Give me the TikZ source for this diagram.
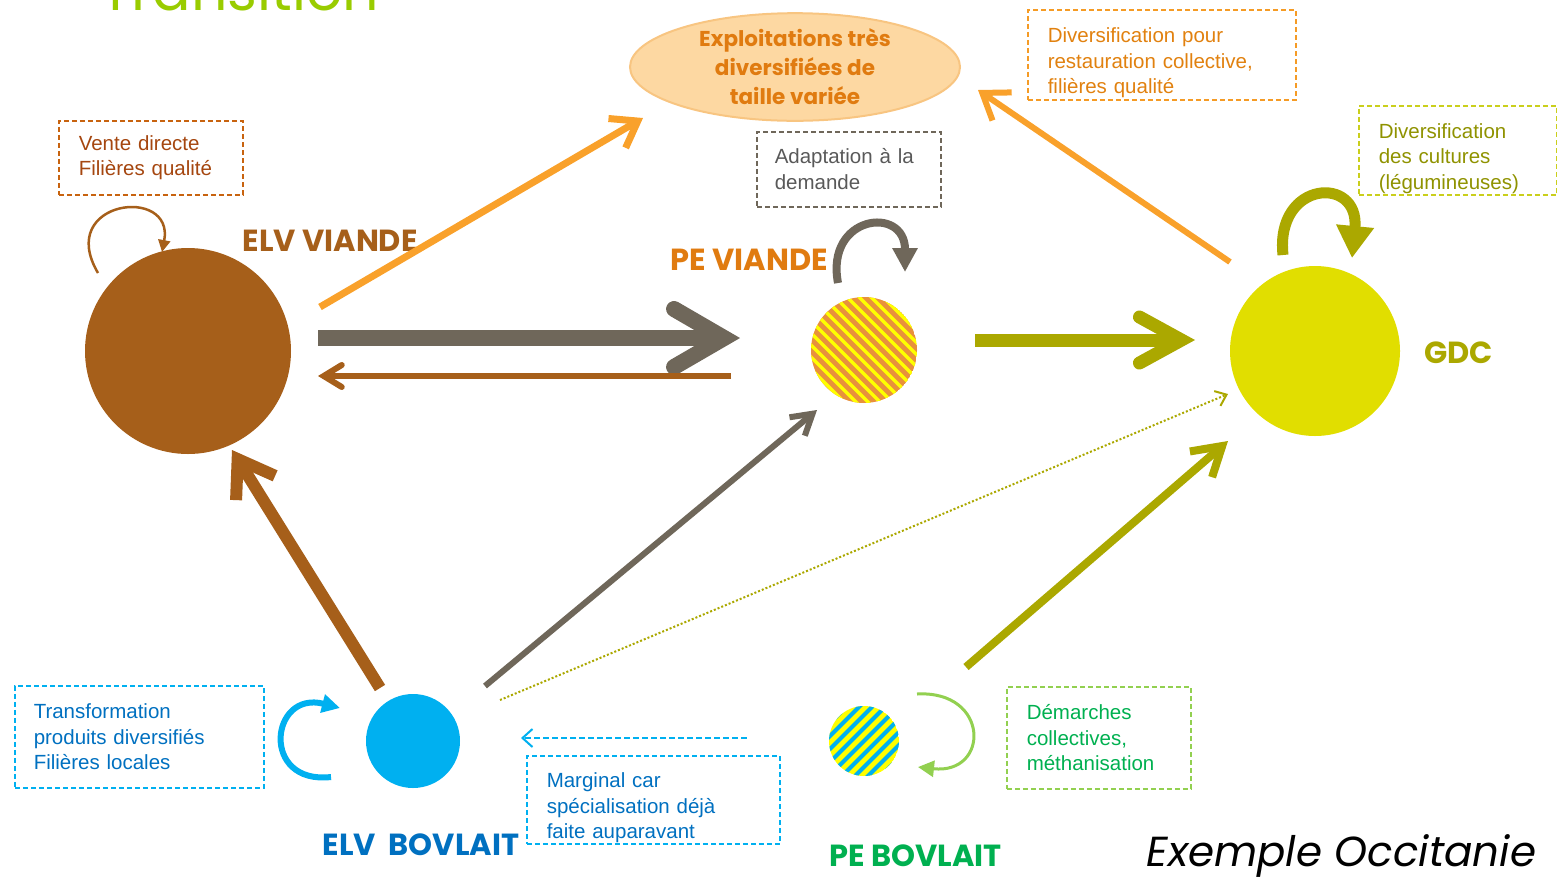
\documentclass[tikz,border=0pt]{standalone}
\usepackage{fontspec}
\setmainfont{Liberation Sans}
\newfontfamily\headfont{Poppins}
\usepackage{xcolor}
\usepackage{tikz}
\usetikzlibrary{positioning, arrows.meta, shapes, calc}

\definecolor{elvbrown}{HTML}{A65F1A}
\definecolor{flowgray}{HTML}{6F675A}
\definecolor{floworange}{HTML}{F9A12B}
\definecolor{flowolive}{HTML}{ABA800}
\definecolor{gdcyellow}{HTML}{E1DE00}
\definecolor{lcyan}{HTML}{00B0F0}
\definecolor{lblue}{HTML}{0070C0}
\definecolor{lgreen}{HTML}{00B050}
\definecolor{lightgreen}{HTML}{92D050}
\definecolor{peorange}{HTML}{E8913C}
\definecolor{stripeyellow}{HTML}{FFFF00}
\definecolor{ellfill}{HTML}{FDD8A2}
\definecolor{ellborder}{HTML}{F8C581}
\definecolor{elltext}{HTML}{E07B10}
\definecolor{vtext}{HTML}{A5460F}
\definecolor{vborder}{HTML}{C8630F}
\definecolor{otext}{HTML}{E1810F}
\definecolor{oborder}{HTML}{F59B25}
\definecolor{gtext}{HTML}{595959}
\definecolor{ctext}{HTML}{8F9200}
\definecolor{cborder}{HTML}{CACF1C}
\definecolor{titlegreen}{HTML}{99CC00}

\newcommand{\lowline}{\rule{0pt}{31pt}}

\tikzset{
    notebox/.style={rectangle, anchor=north west, align=left, dash pattern=on 5pt off 3pt,
        line width=1.5pt, inner xsep=20pt, inner ysep=0pt,
        font=\fontsize{20.5}{25.5}\selectfont},
    farm/.style={circle, inner sep=0pt, minimum size=#1},
    farmlabel/.style={anchor=base west, font=\headfont\bfseries\fontsize{30.5}{36}\selectfont},
    loop/.style={line width=#1, line cap=butt},
}

\begin{document}
\begin{tikzpicture}[x=1pt, y=-1pt]
    \useasboundingbox (0,0) rectangle (1557,879);

    % Title (cut off)
    \node[anchor=base west, text=titlegreen, font=\headfont\fontsize{57}{64}\selectfont] (title) at (97,10) {Transition};

    % Farms
    \node[farm=206pt, fill=elvbrown] (elvv) at (188,351) {};
    \node[farm=106pt] (pev) at (864,350) {};
    \node[farm=170pt, fill=gdcyellow] (gdc) at (1315,351) {};
    \node[farm=94pt, fill=lcyan] (elvb) at (413,741) {};
    \node[farm=70pt] (peb) at (864,741) {};

    % Striped farms
    \begin{scope}
        \clip (pev.center) circle (53);
        \fill[peorange] (pev.center) circle (53);
        \foreach \s in {-96,-84,...,96}
            \draw[stripeyellow, line width=3.5pt] ([xshift=\s]pev.center) ++(-70,-70) -- ++(140,140);
    \end{scope}
    \begin{scope}
        \clip (peb.center) circle (35);
        \fill[stripeyellow] (peb.center) circle (35);
        \foreach \s in {-65,-52,...,65}
            \draw[lcyan, line width=4pt] ([xshift=\s]peb.center) ++(-50,50) -- ++(100,-100);
    \end{scope}

    % Labels
    \node[farmlabel, text=elvbrown] (elvvlab) at (239,251) {ELV VIANDE};
    \node[farmlabel, text=elltext] (pevlab) at (667,270) {PE VIANDE};
    \node[farmlabel, text=flowolive] (gdclab) at (1421,363) {GDC};
    \node[farmlabel, text=lblue] (elvblab) at (319,855) {ELV\ \ BOVLAIT};
    \node[farmlabel, text=lgreen] (peblab) at (826,866) {PE BOVLAIT};
    \node[anchor=base west, font=\headfont\itshape\fontsize{42}{46}\selectfont] (occ) at (1143,866) {Exemple Occitanie};

    % Target
    \node[ellipse, draw=ellborder, fill=ellfill, line width=2pt, minimum width=330pt, minimum height=104pt,
          inner sep=0pt, align=center, text=elltext, font=\headfont\bfseries\fontsize{21.5}{29}\selectfont]
          (expl) at (795,67) {Exploitations très\\diversifiées de\\taille variée};

    % Notes
    \node[notebox, draw=vborder, text=vtext, text width=144pt, minimum height=74pt] (vente) at (58,120)
        {Vente directe\\Filières qualité};
    \node[notebox, draw=oborder, text=otext, text width=228pt, minimum height=90pt] (resto) at (1027,9)
        {\lowline Diversification pour\\restauration collective,\\filières qualité};
    \node[notebox, draw=flowgray, text=gtext, text width=148pt, inner xsep=18pt, minimum height=75pt] (adapt) at (756,131)
        {Adaptation à la\\demande};
    \node[notebox, draw=cborder, text=ctext, text width=158pt, minimum height=89pt] (cult) at (1358,105)
        {\lowline Diversification\\des cultures\\(légumineuses)};
    \node[notebox, draw=lcyan, text=lblue, text width=211pt, inner xsep=19pt, minimum height=102pt] (transfo) at (14,685)
        {Transformation\\produits diversifiés\\Filières locales};
    \node[notebox, draw=lcyan, text=lblue, text width=213pt, minimum height=88pt] (marg) at (526,755)
        {\lowline Marginal car\\spécialisation déjà\\faite auparavant};
    \node[notebox, draw=lightgreen, text=lgreen, text width=144pt, minimum height=102pt] (demarch) at (1006,686)
        {Démarches\\collectives,\\méthanisation};

    % Flows between farms
    \draw[line width=16pt, flowgray, -{Straight Barb[length=50pt, width=58pt, line cap=round]}]
        ($(elvv.center)+(130,-13)$) -- ($(pev.center)+(-124,-12)$);
    \draw[line width=6pt, elvbrown, -{Straight Barb[length=18pt, width=22pt, line cap=round]}]
        ($(pev.center)+(-133,26)$) -- ($(elvv.center)+(130,25)$);
    \draw[line width=13pt, flowolive, -{Straight Barb[length=42pt, width=46pt, line cap=round]}]
        ($(pev.center)+(111,-10)$) -- ($(gdc.center)+(-120,-11)$);
    \draw[line width=12pt, elvbrown, -{Straight Barb[length=34pt, width=46pt]}]
        ($(elvb.center)+(-33,-53)$) -- ($(elvv.center)+(44,99)$);
    \draw[line width=6pt, flowgray, -{Straight Barb[length=20pt, width=24pt]}]
        ($(elvb.center)+(72,-55)$) -- ($(pev.center)+(-47,60)$);
    \draw[line width=2pt, flowolive, dotted, -{Straight Barb[length=10pt, width=16pt]}]
        ($(elvb.center)+(87,-41)$) -- ($(gdc.center)+(-87,43)$);
    \draw[line width=8pt, flowolive, -{Straight Barb[length=28pt, width=34pt]}]
        ($(peb.center)+(102,-74)$) -- ($(gdc.center)+(-87,90)$);
    \draw[line width=2pt, lcyan, dash pattern=on 6pt off 3pt, -{Straight Barb[length=10pt, width=18pt]}]
        ($(marg.north east)+(-34,-17)$) -- ($(elvb.center)+(108,-3)$);

    % Flows to target
    \draw[line width=7pt, floworange, -{Straight Barb[length=24pt, width=34pt]}]
        ($(elvv.center)+(132,-44)$) -- ($(expl.center)+(-152,51)$);
    \draw[line width=6pt, floworange, -{Straight Barb[length=24pt, width=34pt]}]
        ($(gdc.center)+(-85,-89)$) -- ($(expl.center)+(183,23)$);

    % Loops
    \draw[loop=2.5pt, elvbrown, -{Triangle[length=12pt, width=12pt]}]
        ($(elvv.center)+(-90,-78)$) .. controls ($(elvv.center)+(-133,-151)$) and ($(elvv.center)+(-13,-166)$) .. ($(elvv.center)+(-26,-99)$);
    \draw[loop=8pt, flowgray, -{Triangle[length=24pt, width=24pt]}]
        ($(pev.center)+(-26,-67)$) .. controls ($(pev.center)+(-39,-135)$) and ($(pev.center)+(41,-145)$) .. ($(pev.center)+(41,-78)$);
    \draw[loop=11pt, flowolive, -{Triangle[length=32pt, width=36pt]}]
        ($(gdc.center)+(-32,-96)$) .. controls ($(gdc.center)+(-40,-171)$) and ($(gdc.center)+(45,-176)$) .. ($(gdc.center)+(37,-93)$);
    \draw[loop=6pt, lcyan, -{Triangle[length=18pt, width=18pt]}]
        ($(elvb.center)+(-82,36)$) .. controls ($(elvb.center)+(-153,44)$) and ($(elvb.center)+(-143,-51)$) .. ($(elvb.center)+(-73,-33)$);
    \draw[loop=3pt, lightgreen, -{Triangle[length=16pt, width=16pt]}]
        ($(peb.center)+(53,-47)$) .. controls ($(peb.center)+(126,-51)$) and ($(peb.center)+(126,34)$) .. ($(peb.center)+(54,26)$);

\end{tikzpicture}
\end{document}
